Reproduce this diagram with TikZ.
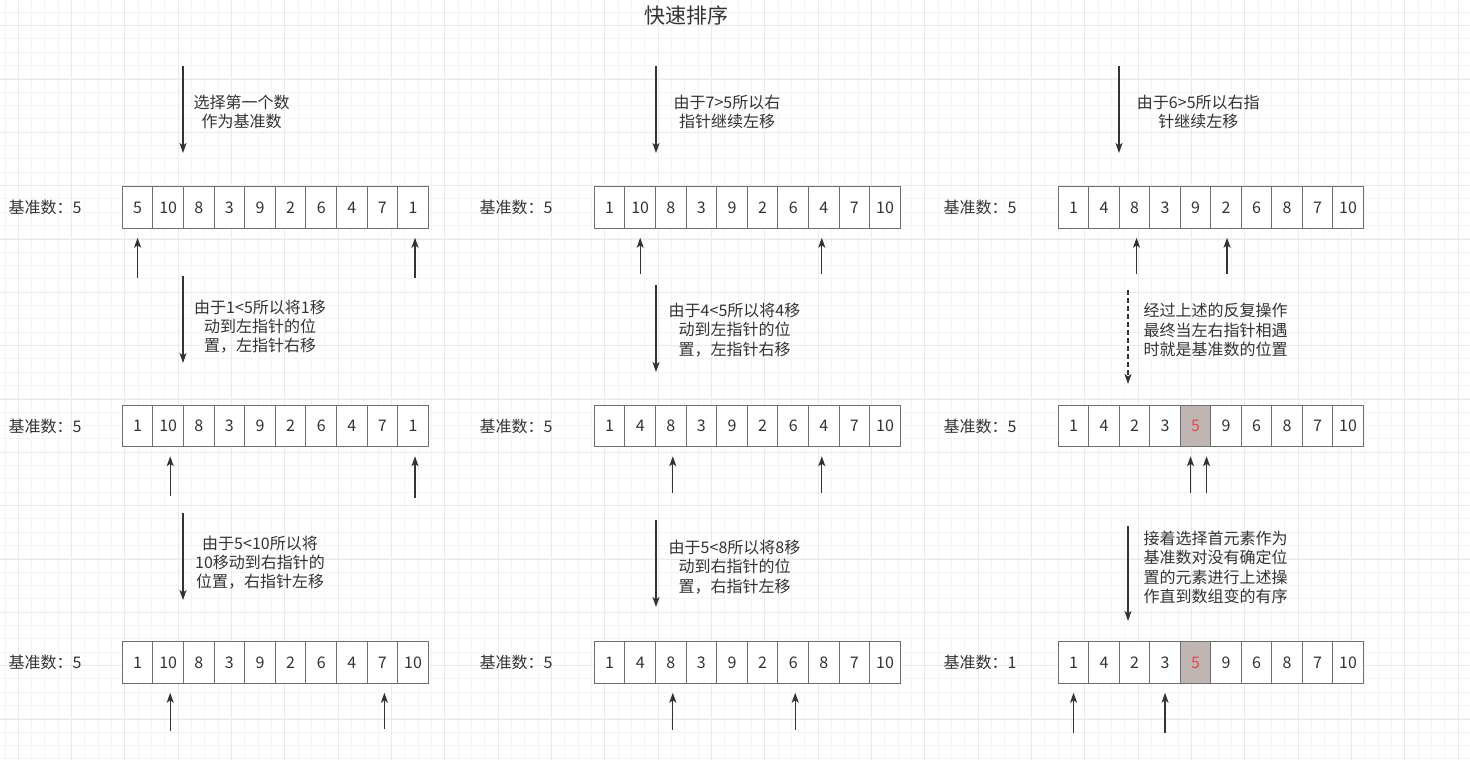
\documentclass[tikz,border=0pt]{standalone}
\usepackage{fontspec}
\setmainfont{Noto Sans CJK SC}
\usepackage{xcolor}
\usepackage{tikz}
\usetikzlibrary{positioning, arrows.meta, calc}

\definecolor{inkgray}{HTML}{333333}
\definecolor{boxline}{HTML}{6E6E6E}
\definecolor{pivotfill}{HTML}{BFB5B2}
\definecolor{pivotred}{HTML}{E5484D}
\definecolor{gridminor}{HTML}{F4F4F4}
\definecolor{gridmajor}{HTML}{EAEAEA}

\begin{document}
\begin{tikzpicture}[
    x=1pt, y=-1pt,
    every node/.style={font=\fontsize{16}{19.3}\selectfont, text=inkgray},
    cell/.style={draw=boxline, line width=1pt, fill=white,
                 minimum width=30.6pt, minimum height=41.5pt, inner sep=0pt},
    pivot/.style={cell, fill=pivotfill, text=pivotred},
    lbl/.style={inner sep=0pt},
    note/.style={align=center, inner sep=0pt},
    arrow/.style={-{Stealth[length=10pt, width=7pt, inset=2.5pt]},
                  line width=1.3pt, draw=inkgray},
    pointer/.style={arrow, shorten >=9pt},
    minorline/.style={draw=gridminor, line width=1pt},
    majorline/.style={draw=gridmajor, line width=1pt},
]

% Background and grid
\useasboundingbox[fill=white] (0,0) rectangle (1470,760);
\foreach \k in {0,...,110} \draw[minorline] ({5+13.333*\k},0) -- ({5+13.333*\k},760);
\foreach \k in {0,...,56} \draw[minorline] (0,{12.3+13.333*\k}) -- (1470,{12.3+13.333*\k});
\foreach \k in {0,...,27} \draw[majorline] ({18.3+53.333*\k},0) -- ({18.3+53.333*\k},760);
\foreach \k in {0,...,14} \draw[majorline] (0,{25.7+53.333*\k}) -- (1470,{25.7+53.333*\k});

% Title
\node[font=\fontsize{21}{25}\selectfont] (title) at (686.5,16) {快速排序};

% Left column
\foreach \v [count=\i] in {5,10,8,3,9,2,6,4,7,1}
  \node[cell] (r11-\i) at ({122.3+30.6*(\i-0.5)},207.5) {\v};
\foreach \v [count=\i] in {1,10,8,3,9,2,6,4,7,1}
  \node[cell] (r21-\i) at ({122.3+30.6*(\i-0.5)},426) {\v};
\foreach \v [count=\i] in {1,10,8,3,9,2,6,4,7,10}
  \node[cell] (r31-\i) at ({122.3+30.6*(\i-0.5)},662.5) {\v};

\node[lbl, left=40pt of r11-1] (lab11) {基准数：5};
\node[lbl, left=40pt of r21-1] (lab21) {基准数：5};
\node[lbl, left=40pt of r31-1] (lab31) {基准数：5};

\node[note] (t11) at (241.7,112) {选择第一个数\\作为基准数};
\node[note] (t21) at (260,326.5) {由于1<5所以将1移\\动到左指针的位\\置，左指针右移};
\node[note] (t31) at (260,562.7) {由于5<10所以将\\10移动到右指针的\\位置，右指针左移};

\coordinate (s11) at (183,66);  \coordinate (e11) at (183,153);
\coordinate (s21) at (183,276); \coordinate (e21) at (183,363);
\coordinate (s31) at (183,513); \coordinate (e31) at (183,600);
\draw[arrow] (s11) -- (e11);
\draw[arrow] (s21) -- (e21);
\draw[arrow] (s31) -- (e31);

\draw[pointer] ([yshift=-49pt]r11-1.south) -- (r11-1.south);
\draw[pointer] ([yshift=-49pt, xshift=2pt]r11-10.south) -- ([xshift=2pt]r11-10.south);
\draw[pointer] ([yshift=-49pt, xshift=2pt]r21-2.south) -- ([xshift=2pt]r21-2.south);
\draw[pointer] ([yshift=-51pt, xshift=2pt]r21-10.south) -- ([xshift=2pt]r21-10.south);
\draw[pointer] ([yshift=-47pt, xshift=2pt]r31-2.south) -- ([xshift=2pt]r31-2.south);
\draw[pointer] ([yshift=-45pt, xshift=2pt]r31-9.south) -- ([xshift=2pt]r31-9.south);

% Middle column
\foreach \v [count=\i] in {1,10,8,3,9,2,6,4,7,10}
  \node[cell] (r12-\i) at ({594.3+30.6*(\i-0.5)},207.5) {\v};
\foreach \v [count=\i] in {1,4,8,3,9,2,6,4,7,10}
  \node[cell] (r22-\i) at ({594.3+30.6*(\i-0.5)},426) {\v};
\foreach \v [count=\i] in {1,4,8,3,9,2,6,8,7,10}
  \node[cell] (r32-\i) at ({594.3+30.6*(\i-0.5)},662.5) {\v};

\node[lbl, left=41pt of r12-1] (lab12) {基准数：5};
\node[lbl, left=41pt of r22-1] (lab22) {基准数：5};
\node[lbl, left=41pt of r32-1] (lab32) {基准数：5};

\node[note] (t12) at (727,112) {由于7>5所以右\\指针继续左移};
\node[note] (t22) at (734.5,330) {由于4<5所以将4移\\动到左指针的位\\置，左指针右移};
\node[note] (t32) at (734.5,567) {由于5<8所以将8移\\动到右指针的位\\置，右指针左移};

\coordinate (s12) at (656,66);  \coordinate (e12) at (656,153);
\coordinate (s22) at (656,285); \coordinate (e22) at (656,372);
\coordinate (s32) at (656,520); \coordinate (e32) at (656,607);
\draw[arrow] (s12) -- (e12);
\draw[arrow] (s22) -- (e22);
\draw[arrow] (s32) -- (e32);

\draw[pointer] ([yshift=-45pt]r12-2.south) -- (r12-2.south);
\draw[pointer] ([yshift=-45pt, xshift=-2pt]r12-8.south) -- ([xshift=-2pt]r12-8.south);
\draw[pointer] ([yshift=-46pt, xshift=2pt]r22-3.south) -- ([xshift=2pt]r22-3.south);
\draw[pointer] ([yshift=-46pt, xshift=-2pt]r22-8.south) -- ([xshift=-2pt]r22-8.south);
\draw[pointer] ([yshift=-46pt, xshift=2pt]r32-3.south) -- ([xshift=2pt]r32-3.south);
\draw[pointer] ([yshift=-46pt, xshift=2pt]r32-7.south) -- ([xshift=2pt]r32-7.south);

% Right column
\foreach \v [count=\i] in {1,4,8,3,9,2,6,8,7,10}
  \node[cell] (r13-\i) at ({1058.3+30.5*(\i-0.5)},207.5) {\v};
\foreach \v [count=\i] in {1,4,2,3,5,9,6,8,7,10}
  \node[cell] (r23-\i) at ({1058.3+30.5*(\i-0.5)},426) {\v};
\foreach \v [count=\i] in {1,4,2,3,5,9,6,8,7,10}
  \node[cell] (r33-\i) at ({1058.3+30.5*(\i-0.5)},662.5) {\v};
\node[pivot] (p23) at (r23-5.center) {5};
\node[pivot] (p33) at (r33-5.center) {5};

\node[lbl, left=41pt of r13-1] (lab13) {基准数：5};
\node[lbl, left=41pt of r23-1] (lab23) {基准数：5};
\node[lbl, left=41pt of r33-1] (lab33) {基准数：1};

\node[note] (t13) at (1198.3,112) {由于6>5所以右指\\针继续左移};
\node[note, align=left] (t23) at (1215.5,330) {经过上述的反复操作\\最终当左右指针相遇\\时就是基准数的位置};
\node[note, align=left] (t33) at (1215.5,567.3) {接着选择首元素作为\\基准数对没有确定位\\置的元素进行上述操\\作直到数组变的有序};

\coordinate (s13) at (1119,66);  \coordinate (e13) at (1119,153);
\coordinate (s23) at (1128,290); \coordinate (e23) at (1128,384);
\coordinate (s33) at (1128,526); \coordinate (e33) at (1128,621);
\draw[arrow] (s13) -- (e13);
\draw[arrow, dash pattern=on 5pt off 3pt] (s23) -- (e23);
\draw[arrow] (s33) -- (e33);

\draw[pointer] ([yshift=-45pt, xshift=2pt]r13-3.south) -- ([xshift=2pt]r13-3.south);
\draw[pointer] ([yshift=-45pt, xshift=1pt]r13-6.south) -- ([xshift=1pt]r13-6.south);
\draw[pointer] ([yshift=-46pt, xshift=-5pt]p23.south) -- ([xshift=-5pt]p23.south);
\draw[pointer] ([yshift=-46pt, xshift=11pt]p23.south) -- ([xshift=11pt]p23.south);
\draw[pointer] ([yshift=-49pt]r33-1.south) -- (r33-1.south);
\draw[pointer] ([yshift=-49pt]r33-4.south) -- (r33-4.south);

\end{tikzpicture}
\end{document}
